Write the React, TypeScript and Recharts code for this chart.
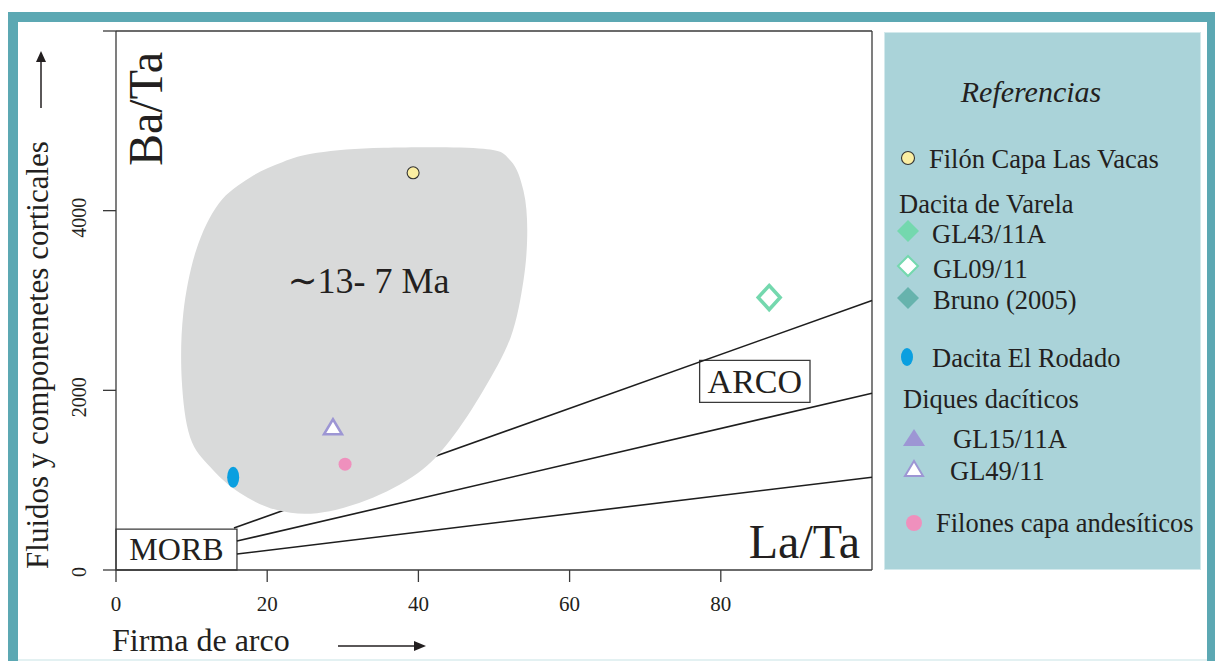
import React from 'react';
import {
  ScatterChart,
  Scatter,
  XAxis,
  YAxis,
  ReferenceLine,
  ReferenceArea,
  ReferenceDot,
} from 'recharts';

// ---------- data ----------
const xTicks = [0, 20, 40, 60, 80];
const yTicks = [0, 2000, 4000, 6000];
const yTickLabels: Record<number, string> = { 0: '0', 2000: '2000', 4000: '4000', 6000: '' };

const filonCapaLasVacas = [{ x: 39.3, y: 4422 }];
const gl0911 = [{ x: 86.4, y: 3033 }];
const dacitaElRodado = [{ x: 15.5, y: 1033 }];
const gl4911 = [{ x: 28.7, y: 1589 }];
const filonesAndesiticos = [{ x: 30.3, y: 1178 }];

// outline of the ~13-7 Ma field
const fieldX = [17.7, 22.0, 26.6, 35.4, 48.6, 52.2, 53.9, 54.4, 53.9, 52.2, 48.6, 44.2, 39.9, 33.2, 26.6, 21.3, 16.4, 12.5, 9.8, 8.7, 8.9, 10.6, 13.6];
const fieldY = [4367, 4540, 4644, 4700, 4689, 4556, 4222, 3778, 3222, 2589, 2000, 1444, 1078, 778, 633, 667, 856, 1144, 1478, 2111, 2856, 3560, 4080];
const fieldPoints = fieldX.map((x, i) => ({ x, y: fieldY[i] }));

// boundary lines (start x, start y, end x, end y)
const lineStartX = [15.6, 16.0, 16.0];
const lineStartY = [467, 322, 178];
const lineEndX = [100, 100, 100];
const lineEndY = [3000, 1967, 1033];

const morbBox = { x1: 0, x2: 16.0, y1: 0, y2: 456 };
const arcoBox = { x1: 77.2, x2: 91.8, y1: 1867, y2: 2333 };
const fieldLabelPos = { x: 33.4, y: 3220 };

const legendLabels = [
  'Filón Capa Las Vacas',
  'Dacita de Varela',
  'GL43/11A',
  'GL09/11',
  'Bruno (2005)',
  'Dacita El Rodado',
  'Diques dacíticos',
  'GL15/11A',
  'GL49/11',
  'Filones capa andesíticos',
];

// ---------- styles ----------
const FONT = '"Liberation Serif", "DejaVu Serif", serif';
const INK = '#231f20';
const AXIS = '#3a3a3a';
const TEAL = '#5ca8b3';
const PANEL = '#aad3d9';
const GREEN = '#74d8ae';
const LAV = '#9d96d4';

function closedSpline(pts: { x: number; y: number }[]) {
  const n = pts.length;
  if (!n) return '';
  let d = `M${pts[0].x},${pts[0].y}`;
  for (let i = 0; i < n; i++) {
    const p0 = pts[(i - 1 + n) % n];
    const p1 = pts[i];
    const p2 = pts[(i + 1) % n];
    const p3 = pts[(i + 2) % n];
    const c1x = p1.x + (p2.x - p0.x) / 6;
    const c1y = p1.y + (p2.y - p0.y) / 6;
    const c2x = p2.x - (p3.x - p1.x) / 6;
    const c2y = p2.y - (p3.y - p1.y) / 6;
    d += `C${c1x},${c1y} ${c2x},${c2y} ${p2.x},${p2.y}`;
  }
  return d + 'Z';
}

const renderField = (props: any) => (
  <path d={closedSpline(props.points || [])} fill="#d9dada" stroke="none" />
);

const XTick = (props: any) => {
  const { x, y, payload } = props;
  return (
    <text x={x} y={y + 27} textAnchor="middle" fontFamily={FONT} fontSize={21} fill={INK}>
      {payload.value}
    </text>
  );
};

const YTick = (props: any) => {
  const { x, y, payload } = props;
  const label = yTickLabels[payload.value] ?? String(payload.value);
  if (!label) return <g />;
  const bx = x - 15;
  const cy = y + (label.length > 1 ? 7 : 2);
  return (
    <text
      x={bx}
      y={cy}
      transform={`rotate(-90, ${bx}, ${cy})`}
      textAnchor="middle"
      fontFamily={FONT}
      fontSize={20}
      fill={INK}
    >
      {label}
    </text>
  );
};

const boxLabel = (text: string, size: number) => (props: any) => {
  const vb = props.viewBox || {};
  const cx = vb.x + vb.width / 2;
  const cy = vb.y + vb.height / 2 + size * 0.33;
  return (
    <text x={cx} y={cy} textAnchor="middle" fontFamily={FONT} fontSize={size} fill={INK}>
      {text}
    </text>
  );
};

const fieldLabel = (props: any) => {
  const vb = props.viewBox || {};
  return (
    <text x={vb.x} y={vb.y + 12} textAnchor="middle" fontFamily={FONT} fontSize={36} fill={INK}>
      {'∼13- 7 Ma'}
    </text>
  );
};

function Chart() {
  return (
    <ScatterChart width={880} height={661} margin={{ top: 31, right: 8, bottom: 61, left: 76 }}>
      <XAxis
        type="number"
        dataKey="x"
        domain={[0, 100]}
        ticks={xTicks}
        allowDataOverflow
        height={30}
        tickSize={12}
        tick={<XTick />}
        axisLine={{ stroke: AXIS, strokeWidth: 1.3 }}
        tickLine={{ stroke: AXIS, strokeWidth: 1.3 }}
      />
      <YAxis
        type="number"
        dataKey="y"
        domain={[0, 6000]}
        ticks={yTicks}
        allowDataOverflow
        width={40}
        tickSize={13}
        tick={<YTick />}
        axisLine={{ stroke: AXIS, strokeWidth: 1.3 }}
        tickLine={{ stroke: AXIS, strokeWidth: 1.3 }}
      />
      <Scatter
        data={fieldPoints}
        isAnimationActive={false}
        shape={() => <g />}
        line={renderField}
        lineType="joint"
        fill="#d9dada"
      />
      <ReferenceLine y={6000} stroke={AXIS} strokeWidth={1.3} />
      <ReferenceLine x={100} stroke={AXIS} strokeWidth={1.3} />
      {lineStartX.map((sx, i) => (
        <ReferenceLine
          key={i}
          segment={[
            { x: sx, y: lineStartY[i] },
            { x: lineEndX[i], y: lineEndY[i] },
          ]}
          stroke="#1e1e1e"
          strokeWidth={1.6}
        />
      ))}
      <ReferenceArea
        x1={morbBox.x1}
        x2={morbBox.x2}
        y1={morbBox.y1}
        y2={morbBox.y2}
        fill="#ffffff"
        fillOpacity={1}
        stroke={AXIS}
        strokeWidth={1.3}
        label={boxLabel('MORB', 32)}
      />
      <ReferenceArea
        x1={arcoBox.x1}
        x2={arcoBox.x2}
        y1={arcoBox.y1}
        y2={arcoBox.y2}
        fill="#ffffff"
        fillOpacity={1}
        stroke={AXIS}
        strokeWidth={1.3}
        label={boxLabel('ARCO', 34)}
      />
      <ReferenceDot x={fieldLabelPos.x} y={fieldLabelPos.y} r={0} fill="none" stroke="none" label={fieldLabel} />
      <Scatter
        data={filonCapaLasVacas}
        isAnimationActive={false}
        shape={(p: any) => <circle cx={p.cx} cy={p.cy} r={6} fill="#fbeea2" stroke="#333" strokeWidth={1.1} />}
      />
      <Scatter
        data={gl0911}
        isAnimationActive={false}
        shape={(p: any) => (
          <polygon
            points={`${p.cx},${p.cy - 12} ${p.cx + 11},${p.cy} ${p.cx},${p.cy + 12} ${p.cx - 11},${p.cy}`}
            fill="#ffffff"
            stroke={GREEN}
            strokeWidth={3.5}
          />
        )}
      />
      <Scatter
        data={dacitaElRodado}
        isAnimationActive={false}
        shape={(p: any) => <ellipse cx={p.cx} cy={p.cy} rx={6} ry={10.5} fill="#0a9fe0" />}
      />
      <Scatter
        data={gl4911}
        isAnimationActive={false}
        shape={(p: any) => (
          <polygon
            points={`${p.cx},${p.cy - 8} ${p.cx + 9},${p.cy + 7} ${p.cx - 9},${p.cy + 7}`}
            fill="#ffffff"
            stroke={LAV}
            strokeWidth={2.5}
          />
        )}
      />
      <Scatter
        data={filonesAndesiticos}
        isAnimationActive={false}
        shape={(p: any) => <circle cx={p.cx} cy={p.cy} r={6.5} fill="#ef90bd" />}
      />
    </ScatterChart>
  );
}

function Overlay() {
  const t = (x: number, y: number, s: string, extra: any = {}) => (
    <text x={x} y={y} fontFamily={FONT} fontSize={26.5} fill={INK} {...extra}>
      {s}
    </text>
  );
  return (
    <svg width={1215} height={661} style={{ position: 'absolute', left: 0, top: 0, pointerEvents: 'none' }}>
      {/* axis titles */}
      <text
        x={48}
        y={355}
        transform="rotate(-90, 48, 355)"
        textAnchor="middle"
        fontFamily={FONT}
        fontSize={31}
        fill={INK}
      >
        Fluidos y componenetes corticales
      </text>
      <line x1={41} y1={108} x2={41} y2={60} stroke={INK} strokeWidth={1.5} />
      <polygon points="41,51 36,62 46,62" fill={INK} />
      <text x={112} y={651} fontFamily={FONT} fontSize={32} fill={INK}>
        Firma de arco
      </text>
      <line x1={338} y1={646} x2={416} y2={646} stroke={INK} strokeWidth={1.5} />
      <polygon points="426,646 414,641 414,651" fill={INK} />
      {/* ratio labels */}
      <text
        x={162}
        y={109}
        transform="rotate(-90, 162, 109)"
        textAnchor="middle"
        fontFamily={FONT}
        fontSize={48}
        fill={INK}
      >
        Ba/Ta
      </text>
      <text x={860} y={558} textAnchor="end" fontFamily={FONT} fontSize={48} fill={INK}>
        La/Ta
      </text>
      {/* legend */}
      <text x={1031} y={102} textAnchor="middle" fontFamily={FONT} fontSize={30} fontStyle="italic" fill={INK}>
        Referencias
      </text>
      <circle cx={908} cy={158} r={6.5} fill="#fbeea2" stroke="#333" strokeWidth={1.1} />
      {t(929, 168, legendLabels[0])}
      {t(899, 213, legendLabels[1])}
      <polygon points="908,220 919,231 908,242 897,231" fill={GREEN} />
      {t(932, 243, legendLabels[2])}
      <polygon points="908,256 918,266 908,276 898,266" fill="#ffffff" stroke={GREEN} strokeWidth={2} />
      {t(933, 278, legendLabels[3])}
      <polygon points="908,287 919,298 908,309 897,298" fill="#67b3ad" />
      {t(933, 309, legendLabels[4])}
      <ellipse cx={907} cy={357} rx={6} ry={9} fill="#0a9fe0" />
      {t(932, 367, legendLabels[5])}
      {t(903, 408, legendLabels[6])}
      <polygon points="914,429 925,446 903,446" fill={LAV} />
      {t(953, 448, legendLabels[7])}
      <polygon points="914,461 923,476 905,476" fill="#ffffff" stroke={LAV} strokeWidth={2} />
      {t(950, 480, legendLabels[8])}
      <circle cx={914} cy={523} r={8} fill="#ef90bd" />
      {t(936, 532, legendLabels[9])}
    </svg>
  );
}

export default function App() {
  return (
    <div
      style={{
        position: 'absolute',
        left: 0,
        top: 0,
        width: 1215,
        height: 661,
        overflow: 'hidden',
        background: '#ffffff',
        fontFamily: FONT,
      }}
    >
      <div
        style={{
          position: 'absolute',
          left: 8,
          top: 12,
          width: 1209,
          height: 720,
          boxSizing: 'border-box',
          border: `10px solid ${TEAL}`,
        }}
      />
      <div style={{ position: 'absolute', left: 18, top: 659, width: 1189, height: 2, background: '#e3f1f2' }} />
      <div
        style={{
          position: 'absolute',
          left: 884,
          top: 32,
          width: 317,
          height: 538,
          boxSizing: 'border-box',
          background: PANEL,
          border: '1px solid #d3e9ec',
        }}
      />
      <div style={{ position: 'absolute', left: 0, top: 0 }}>
        <Chart />
      </div>
      <Overlay />
    </div>
  );
}
